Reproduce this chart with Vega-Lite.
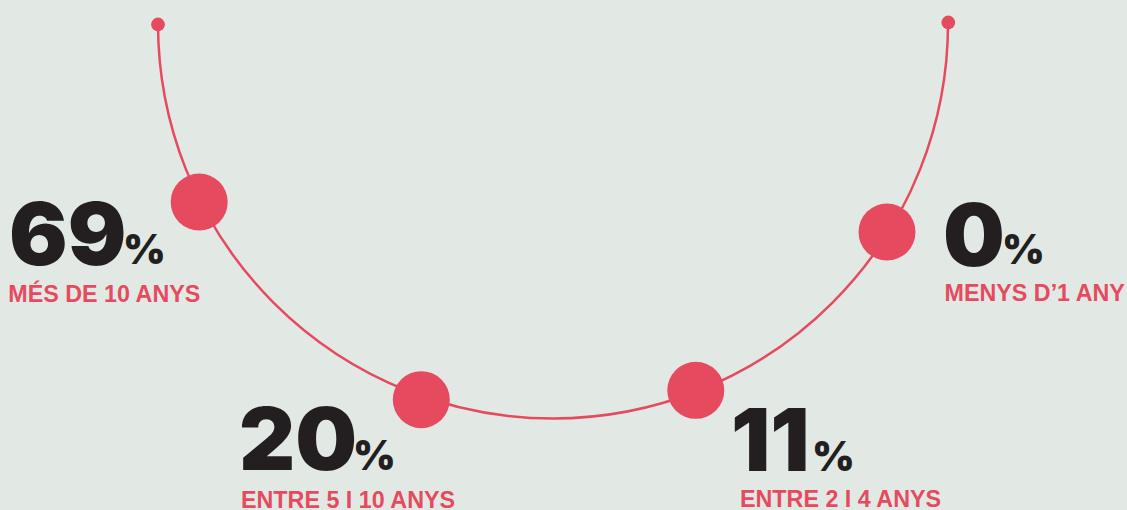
{
  "$schema": "https://vega.github.io/schema/vega-lite/v6.json",
  "width": 1127,
  "height": 510,
  "autosize": {"type": "fit", "contains": "padding"},
  "padding": 0,
  "background": "#E2E9E5",
  "config": {"view": {"stroke": null}},
  "datasets": {
    "groups": [
      {"label": "MÉS DE 10 ANYS", "value": 69, "rank": 1},
      {"label": "ENTRE 5 I 10 ANYS", "value": 20, "rank": 2},
      {"label": "ENTRE 2 I 4 ANYS", "value": 11, "rank": 3},
      {"label": "MENYS D’1 ANY", "value": 0, "rank": 4}
    ],
    "ends": [
      {"end": "inici", "rank": 0},
      {"end": "final", "rank": 5}
    ],
    "arc": [{"shape": "semicercle"}]
  },
  "resolve": {"scale": {"x": "independent", "y": "independent"}},
  "layer": [
    {
      "data": {"name": "arc"},
      "mark": {"type": "arc", "theta": 1.5708, "theta2": 4.7124, "radius": 395, "radius2": 395, "x": 553, "y": 23.5, "filled": false, "stroke": "#E64A5E", "strokeWidth": 2.5},
      "encoding": {}
    },
    {
      "data": {"name": "ends"},
      "mark": {"type": "circle", "color": "#E64A5E", "opacity": 1, "size": 190},
      "encoding": {
        "x": {"field": "rank", "type": "quantitative", "axis": null, "scale": {"domain": [0, 5], "range": [158, 948.3], "nice": false, "zero": false}},
        "y": {"field": "rank", "type": "quantitative", "axis": null, "scale": {"domain": [0, 5], "range": [24.5, 22.5], "nice": false, "zero": false}}
      }
    },
    {
      "data": {"name": "groups"},
      "mark": {"type": "circle", "color": "#E64A5E", "opacity": 1, "size": 3249},
      "encoding": {
        "x": {"field": "rank", "type": "quantitative", "axis": null, "scale": {"domain": [1, 2, 3, 4], "range": [199.2, 421.3, 695.8, 887], "nice": false, "zero": false}},
        "y": {"field": "rank", "type": "quantitative", "axis": null, "scale": {"domain": [1, 2, 3, 4], "range": [202, 399.7, 390.3, 232], "nice": false, "zero": false}}
      }
    },
    {
      "data": {"name": "groups"},
      "mark": {"type": "text", "align": "left", "baseline": "alphabetic", "font": "Inter", "fontSize": 87, "fontWeight": 900, "color": "#231F20"},
      "encoding": {
        "text": {"field": "value", "type": "quantitative"},
        "x": {"field": "rank", "type": "quantitative", "axis": null, "scale": {"domain": [1, 2, 3, 4], "range": [9, 239, 731, 943], "nice": false, "zero": false}},
        "y": {"field": "rank", "type": "quantitative", "axis": null, "scale": {"domain": [1, 2, 3, 4], "range": [265, 470, 470.7, 266], "nice": false, "zero": false}}
      }
    },
    {
      "data": {"name": "groups"},
      "mark": {"type": "text", "align": "left", "baseline": "alphabetic", "font": "Inter", "fontSize": 41, "fontWeight": 900, "color": "#231F20", "text": "%"},
      "encoding": {
        "x": {"field": "rank", "type": "quantitative", "axis": null, "scale": {"domain": [1, 2, 3, 4], "range": [123, 353, 812, 1002], "nice": false, "zero": false}},
        "y": {"field": "rank", "type": "quantitative", "axis": null, "scale": {"domain": [1, 2, 3, 4], "range": [264, 470, 470.5, 264], "nice": false, "zero": false}}
      }
    },
    {
      "data": {"name": "groups"},
      "mark": {"type": "text", "align": "left", "baseline": "alphabetic", "font": "Liberation Sans", "fontSize": 23.3, "fontWeight": "bold", "color": "#E64A5E"},
      "encoding": {
        "text": {"field": "label", "type": "nominal"},
        "x": {"field": "rank", "type": "quantitative", "axis": null, "scale": {"domain": [1, 2, 3, 4], "range": [8.3, 241, 740, 944.5], "nice": false, "zero": false}},
        "y": {"field": "rank", "type": "quantitative", "axis": null, "scale": {"domain": [1, 2, 3, 4], "range": [302, 508.3, 507.3, 300.5], "nice": false, "zero": false}}
      }
    }
  ]
}
